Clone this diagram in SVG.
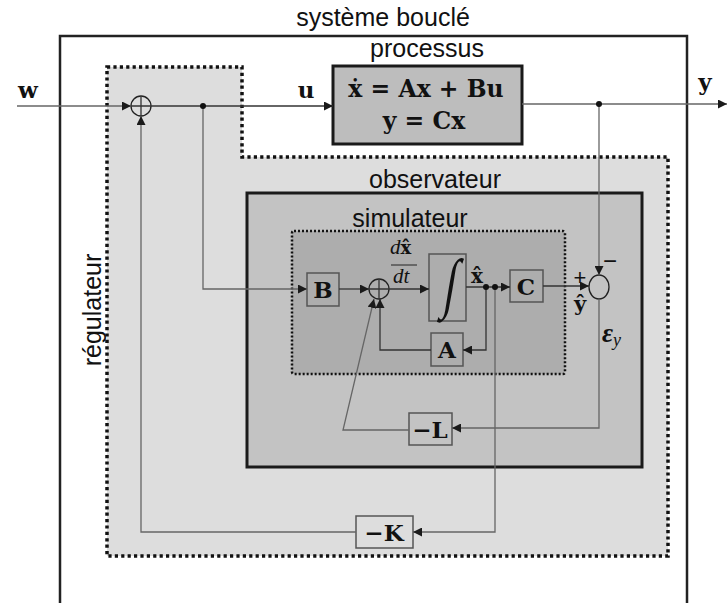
<svg xmlns="http://www.w3.org/2000/svg" width="727" height="603" viewBox="0 0 727 603">
<defs>
<marker id="ah" viewBox="0 0 10 10" refX="10" refY="5" markerWidth="9" markerHeight="9" markerUnits="userSpaceOnUse" orient="auto">
<path d="M0,0 L10,5 L0,10 z" fill="#1a1a1a"/>
</marker>
<style>
.lbl{font-family:"Liberation Sans",Arial,sans-serif;font-size:25px;fill:#111}
.m{font-family:"DejaVu Serif","Liberation Serif",serif;font-weight:bold;fill:#111}
.mi{font-family:"Liberation Serif","DejaVu Serif",serif;font-style:italic;fill:#111}
.blk{fill:none;stroke:#555;stroke-width:1.5}
.ln{fill:none;stroke:#333;stroke-width:1.3}
.lg{fill:none;stroke:#666;stroke-width:1.3}
.dot{fill:#111}
</style>
</defs>
<rect width="727" height="603" fill="#fff"/>
<g id="systeme">
<rect x="60" y="36" width="627" height="600" fill="#fff" stroke="#222" stroke-width="2.5"/>
<text class="lbl" x="383" y="26" text-anchor="middle">système bouclé</text>
</g>
<g id="regulateur">
<path d="M107,67 H242 V157 H668 V556 H107 Z" fill="#dddddd" stroke="#111" stroke-width="3.5" stroke-dasharray="3.2 3.2"/>
<text class="lbl" transform="translate(101,310) rotate(-90)" text-anchor="middle">régulateur</text>
</g>
<g id="processus">
<rect x="333" y="66" width="189" height="78" fill="#bdbdbd" stroke="#1a1a1a" stroke-width="3"/>
<text class="lbl" x="427" y="57" text-anchor="middle">processus</text>
<text class="m" x="426" y="97" font-size="23.5" text-anchor="middle">ẋ = Ax + Bu</text>
<text class="m" x="424" y="129" font-size="23.5" text-anchor="middle">y = Cx</text>
</g>
<g id="observateur">
<rect x="247" y="193" width="395" height="274" fill="#c3c3c3" stroke="#1a1a1a" stroke-width="3"/>
<text class="lbl" x="435" y="188" text-anchor="middle">observateur</text>
</g>
<g id="simulateur">
<rect x="292" y="231" width="273" height="143" rx="2" fill="#adadad" stroke="#111" stroke-width="2.5" stroke-dasharray="2 2"/>
<text class="lbl" x="410" y="227" text-anchor="middle">simulateur</text>
</g>
<g id="sum1">
<circle cx="141" cy="106" r="10" fill="none" stroke="#222" stroke-width="1.3"/>
<path class="ln" d="M131,106 H151 M141,96 V116"/>
</g>
<g id="sum2">
<circle cx="379" cy="289" r="10" fill="none" stroke="#222" stroke-width="1.3"/>
<path class="ln" d="M369,289 H389 M379,279 V299"/>
</g>
<g id="comparateur">
<ellipse cx="599" cy="287" rx="10" ry="12" fill="none" stroke="#222" stroke-width="1.3"/>
<text x="580" y="285" font-family="Liberation Sans,Arial,sans-serif" font-size="22" text-anchor="middle" fill="#111">+</text>
<text x="610" y="269" font-family="Liberation Sans,Arial,sans-serif" font-size="24" text-anchor="middle" fill="#111">−</text>
</g>
<g id="B">
<rect class="blk" x="307" y="273" width="32" height="33"/>
<text class="m" x="323" y="298" font-size="23" text-anchor="middle">B</text>
</g>
<g id="integrateur">
<rect class="blk" x="429" y="254" width="37" height="67"/>
<text class="mi" transform="translate(448,305) scale(1,1.5) skewX(-14)" font-size="44" text-anchor="middle">∫</text>
</g>
<g id="C">
<rect class="blk" x="510" y="270" width="33" height="32"/>
<text class="m" x="526" y="295" font-size="23" text-anchor="middle">C</text>
</g>
<g id="A">
<rect class="blk" x="431" y="333" width="32" height="33"/>
<text class="m" x="447" y="358" font-size="23" text-anchor="middle">A</text>
</g>
<g id="L">
<rect class="blk" x="409" y="413" width="43" height="32"/>
<text class="m" x="430" y="438" font-size="23" text-anchor="middle">−L</text>
</g>
<g id="K">
<rect class="blk" x="356" y="516" width="57" height="32"/>
<text class="m" x="384" y="541" font-size="23" text-anchor="middle">−K</text>
</g>
<g id="connecteurs">
<path class="lg" d="M17,106 H131" marker-end="url(#ah)"/>
<path class="ln" d="M151,106 H333" marker-end="url(#ah)"/>
<path class="lg" d="M203,106 V289 H307" marker-end="url(#ah)"/>
<path class="lg" d="M522,104 H727" marker-end="url(#ah)"/>
<path class="lg" d="M599,104 V275" marker-end="url(#ah)"/>
<path class="ln" d="M339,289 H369" marker-end="url(#ah)"/>
<path class="ln" d="M389,289 H429" marker-end="url(#ah)"/>
<path class="ln" d="M466,287 H510" marker-end="url(#ah)"/>
<path class="ln" d="M543,286 H589" marker-end="url(#ah)"/>
<path class="ln" d="M486,287 V350 H463" marker-end="url(#ah)"/>
<path class="ln" d="M431,350 H380 V299" marker-end="url(#ah)"/>
<path class="lg" d="M599,299 V428 H452" marker-end="url(#ah)"/>
<path class="lg" d="M409,430 H343 L374,299" marker-end="url(#ah)"/>
<path class="lg" d="M495,287 V532 H413" marker-end="url(#ah)"/>
<path class="lg" d="M356,532 H141 V116" marker-end="url(#ah)"/>
<circle class="dot" cx="203" cy="106" r="3"/>
<circle class="dot" cx="599" cy="104" r="3"/>
<circle class="dot" cx="486" cy="287" r="3"/>
<circle class="dot" cx="495" cy="287" r="3"/>
<text class="m" x="28" y="98" font-size="23" text-anchor="middle">w</text>
<text class="m" x="306" y="98" font-size="23" text-anchor="middle">u</text>
<text class="m" x="705" y="90" font-size="23" text-anchor="middle">y</text>
<text class="mi" x="390" y="254" font-size="21">d<tspan class="m" font-style="normal" font-size="18">x̂</tspan></text>
<line x1="391" y1="265" x2="417" y2="265" stroke="#222" stroke-width="1"/>
<text class="mi" x="393" y="283" font-size="21">dt</text>
<text class="m" x="477" y="283" font-size="20" text-anchor="middle">x̂</text>
<text class="m" x="580" y="311" font-size="21" text-anchor="middle">ŷ</text>
<text class="mi" x="602" y="342" font-size="27" font-weight="bold">ε<tspan font-weight="normal" font-size="18" dy="4">y</tspan></text>
</g>
</svg>
